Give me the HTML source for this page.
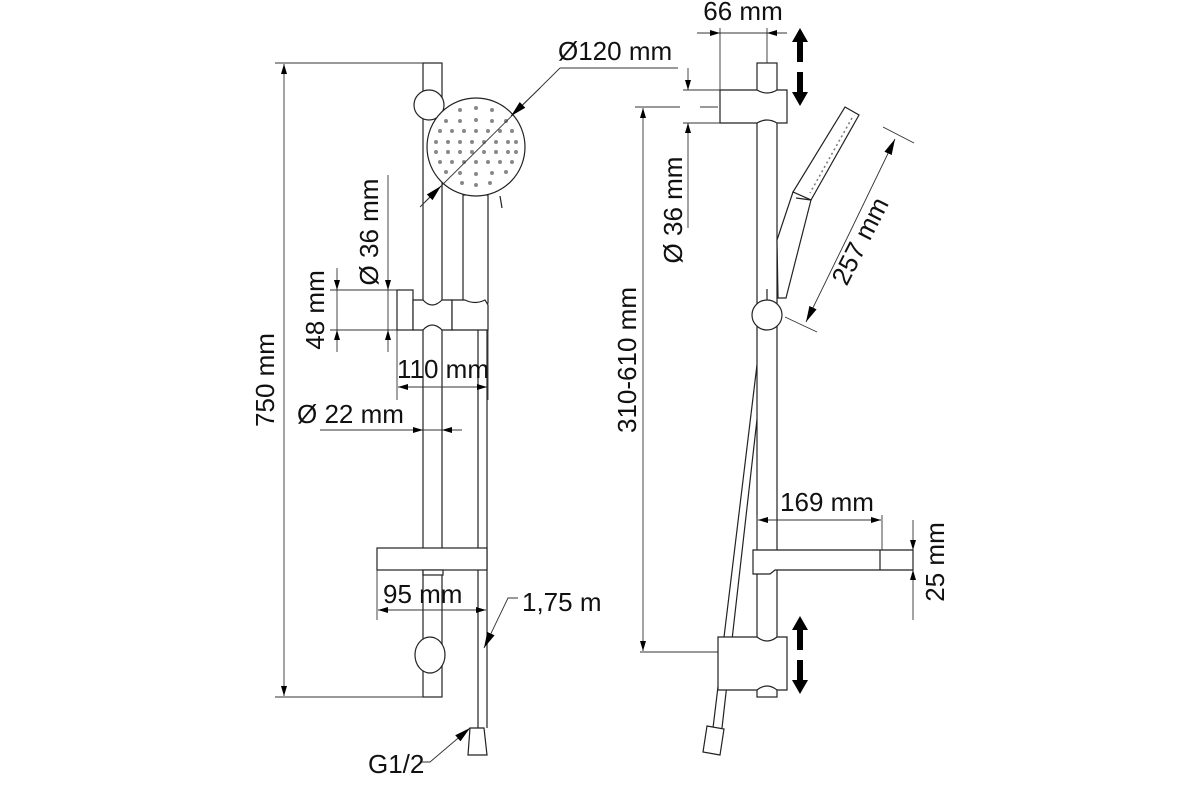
<!DOCTYPE html>
<html><head><meta charset="utf-8"><style>
html,body{margin:0;padding:0;background:#fff}
svg{display:block}
text{font-family:"Liberation Sans",sans-serif;font-size:26px;fill:#111}
</style></head><body>
<svg width="1200" height="800" viewBox="0 0 1200 800" xmlns="http://www.w3.org/2000/svg">
<defs>
<marker id="a" viewBox="0 0 10 6" refX="10" refY="3" markerWidth="10" markerHeight="6" orient="auto" markerUnits="userSpaceOnUse"><path d="M0,0L10,3L0,6z" fill="#000"/></marker>
<marker id="b" viewBox="0 0 16 8" refX="16" refY="4" markerWidth="16" markerHeight="8" orient="auto" markerUnits="userSpaceOnUse"><path d="M0,0L16,4L0,8z" fill="#000"/></marker>
</defs>
<g stroke="#222" stroke-width="1.2" fill="none">
<rect x="423" y="63" width="19" height="634" fill="#fff"/>
<circle cx="429" cy="105" r="15" fill="#fff"/>
<rect x="463" y="195" width="25" height="108" fill="#fff"/>
<line x1="500" y1="196" x2="502" y2="208"/>
<circle cx="476" cy="147" r="49" fill="#fff"/>
<rect x="397" y="290" width="16" height="40" fill="#fff"/>
<path d="M413,300 L423,300 Q432,310 442,300 L452,300 L452,330 L442,330 Q432,320 423,330 L413,330 Z" fill="#fff"/>
<path d="M452,300 L465,300 Q475,305 485,300 L488,305 L488,330 L452,330 Z" fill="#fff"/>
<line x1="478" y1="330" x2="478" y2="728"/>
<line x1="487" y1="330" x2="487" y2="728"/>
<path d="M470,728 L484,728 L487,755 L468,755 Z" fill="#fff"/>
<rect x="377" y="548" width="110" height="22" fill="#fff"/>
<rect x="423" y="570" width="20" height="5" fill="#fff"/>
<ellipse cx="430" cy="655" rx="15" ry="18" fill="#fff"/>
</g>
<g fill="#888">
<circle cx="460" cy="110" r="2"/><circle cx="476" cy="108" r="2"/><circle cx="492" cy="110" r="2"/>
<circle cx="446" cy="121" r="2"/><circle cx="460" cy="121" r="2"/><circle cx="476" cy="120" r="2"/><circle cx="492" cy="121" r="2"/><circle cx="506" cy="121" r="2"/>
<circle cx="440" cy="131" r="2"/><circle cx="452" cy="131" r="2"/><circle cx="464" cy="131" r="2"/><circle cx="476" cy="131" r="2"/><circle cx="488" cy="131" r="2"/><circle cx="500" cy="131" r="2"/><circle cx="512" cy="131" r="2"/>
<circle cx="436" cy="142" r="2"/><circle cx="448" cy="142" r="2"/><circle cx="460" cy="142" r="2"/><circle cx="472" cy="142" r="2"/><circle cx="484" cy="142" r="2"/><circle cx="496" cy="142" r="2"/><circle cx="508" cy="142" r="2"/><circle cx="516" cy="142" r="2"/>
<circle cx="436" cy="152" r="2"/><circle cx="448" cy="152" r="2"/><circle cx="460" cy="152" r="2"/><circle cx="472" cy="152" r="2"/><circle cx="484" cy="152" r="2"/><circle cx="496" cy="152" r="2"/><circle cx="508" cy="152" r="2"/><circle cx="516" cy="152" r="2"/>
<circle cx="440" cy="162" r="2"/><circle cx="452" cy="162" r="2"/><circle cx="464" cy="162" r="2"/><circle cx="476" cy="162" r="2"/><circle cx="488" cy="162" r="2"/><circle cx="500" cy="162" r="2"/><circle cx="512" cy="162" r="2"/>
<circle cx="446" cy="172" r="2"/><circle cx="460" cy="173" r="2"/><circle cx="476" cy="174" r="2"/><circle cx="492" cy="173" r="2"/><circle cx="506" cy="172" r="2"/>
<circle cx="462" cy="183" r="2"/><circle cx="476" cy="185" r="2"/><circle cx="490" cy="183" r="2"/>
</g>
<g stroke="#333" stroke-width="0.9" fill="none">
<line x1="275" y1="63" x2="423" y2="63"/><line x1="275" y1="697" x2="423" y2="697"/>
<line x1="284" y1="380" x2="284" y2="64" marker-end="url(#a)"/><line x1="284" y1="380" x2="284" y2="696" marker-end="url(#a)"/>
<line x1="330" y1="290" x2="397" y2="290"/><line x1="330" y1="330" x2="397" y2="330"/>
<line x1="337" y1="268" x2="337" y2="290" marker-end="url(#a)"/><line x1="337" y1="352" x2="337" y2="330" marker-end="url(#a)"/><line x1="337" y1="290" x2="337" y2="330"/>
<line x1="388" y1="175" x2="388" y2="290" marker-end="url(#a)"/><line x1="388" y1="352" x2="388" y2="330" marker-end="url(#a)"/><line x1="388" y1="290" x2="388" y2="330"/>
<line x1="397" y1="330" x2="397" y2="400"/><line x1="488" y1="330" x2="488" y2="400"/>
<line x1="443" y1="387" x2="398" y2="387" marker-end="url(#a)"/><line x1="443" y1="387" x2="487" y2="387" marker-end="url(#a)"/>
<line x1="320" y1="430" x2="423" y2="430" marker-end="url(#a)"/><line x1="462" y1="430" x2="442" y2="430" marker-end="url(#a)"/><line x1="423" y1="430" x2="442" y2="430"/>
<line x1="560" y1="68" x2="678" y2="68"/>
<line x1="560" y1="68" x2="420" y2="207"/>
<line x1="540" y1="88" x2="511" y2="116" marker-end="url(#b)"/>
<line x1="425" y1="202" x2="441" y2="186" marker-end="url(#b)"/>
<line x1="377" y1="570" x2="377" y2="620"/>
<line x1="430" y1="610" x2="378" y2="610" marker-end="url(#a)"/><line x1="430" y1="610" x2="486" y2="610" marker-end="url(#a)"/>
<polyline points="518,598 508,598 484,648" marker-end="url(#b)"/>
<polyline points="420,762 430,762 470,728" marker-end="url(#b)"/>
</g>
<g stroke="#222" stroke-width="1.2" fill="none">
<line x1="760" y1="340" x2="713" y2="728"/><line x1="766" y1="340" x2="722" y2="728"/>
<path d="M707,726 L724,729 L720,755 L703,752 Z" fill="#fff"/>
<rect x="757" y="63" width="20" height="634" fill="#fff"/>
<path d="M720,90 L757,90 Q767,96 777,90 L787,90 L787,123 L777,123 Q767,117 757,123 L720,123 Z" fill="#fff"/>
<path d="M845,107 L859,115 L811,200 L793,192 Z" fill="#fff"/>
<path d="M793,192 L811,200 L786,298 L778,298 L777,240 Z" fill="#fff"/>
<line x1="796" y1="198" x2="811" y2="200"/>
<line x1="767" y1="289" x2="767" y2="300"/>
<circle cx="767" cy="315" r="15" fill="#fff"/>
<path d="M753,550 L913,550 L913,570 L775,570 L770,574 L753,574 Z" fill="#fff"/>
<line x1="880" y1="550" x2="880" y2="570"/>
<path d="M718,637 L757,637 Q767,645 777,637 L787,637 L787,690 L777,690 Q767,682 757,690 L718,690 Z" fill="#fff"/>
</g>
<g stroke="#777" stroke-width="1.5" stroke-dasharray="2,3"><line x1="852" y1="118" x2="810" y2="193"/></g>
<g stroke="#333" stroke-width="0.9" fill="none">
<line x1="720" y1="90" x2="720" y2="28"/><line x1="767" y1="63" x2="767" y2="28"/>
<line x1="697" y1="33" x2="720" y2="33" marker-end="url(#a)"/><line x1="787" y1="33" x2="767" y2="33" marker-end="url(#a)"/><line x1="720" y1="33" x2="767" y2="33"/>
<line x1="683" y1="90" x2="720" y2="90"/><line x1="683" y1="123" x2="720" y2="123"/>
<line x1="688" y1="68" x2="688" y2="90" marker-end="url(#a)"/><line x1="688" y1="228" x2="688" y2="123" marker-end="url(#a)"/>
<line x1="635" y1="107" x2="680" y2="107"/><line x1="700" y1="107" x2="718" y2="107"/>
<line x1="643" y1="380" x2="643" y2="108" marker-end="url(#a)"/><line x1="643" y1="380" x2="643" y2="651" marker-end="url(#a)"/>
<line x1="640" y1="652" x2="718" y2="652"/>
<line x1="883" y1="127" x2="914" y2="143"/><line x1="785" y1="317" x2="817" y2="332"/>
<line x1="850" y1="232" x2="895" y2="139" marker-end="url(#b)"/><line x1="850" y1="232" x2="806" y2="322" marker-end="url(#b)"/>
<line x1="757" y1="515" x2="757" y2="550"/><line x1="882" y1="515" x2="882" y2="550"/>
<line x1="820" y1="520" x2="758" y2="520" marker-end="url(#a)"/><line x1="820" y1="520" x2="881" y2="520" marker-end="url(#a)"/>
<line x1="913" y1="520" x2="913" y2="550" marker-end="url(#a)"/><line x1="913" y1="620" x2="913" y2="570" marker-end="url(#a)"/>
</g>
<g fill="#000">
<path d="M797,62 L797,42 L792,42 L800,28 L808,42 L803,42 L803,62 Z"/>
<path d="M797,72 L797,92 L792,92 L800,106 L808,92 L803,92 L803,72 Z"/>
<path d="M797,650 L797,630 L792,630 L800,616 L808,630 L803,630 L803,650 Z"/>
<path d="M797,660 L797,680 L792,680 L800,694 L808,680 L803,680 L803,660 Z"/>
</g>
<text x="274" y="380" transform="rotate(-90 274 380)" text-anchor="middle">750 mm</text>
<text x="324" y="310" transform="rotate(-90 324 310)" text-anchor="middle">48 mm</text>
<text x="378" y="232" transform="rotate(-90 378 232)" text-anchor="middle">Ø 36 mm</text>
<text x="443" y="378" text-anchor="middle">110 mm</text>
<text x="297" y="423">Ø 22 mm</text>
<text x="558" y="60">Ø120 mm</text>
<text x="383" y="603">95 mm</text>
<text x="522" y="611">1,75 m</text>
<text x="368" y="773">G1/2</text>
<text x="743" y="20" text-anchor="middle">66 mm</text>
<text x="682" y="210" transform="rotate(-90 682 210)" text-anchor="middle">Ø 36 mm</text>
<text x="636" y="360" transform="rotate(-90 636 360)" text-anchor="middle">310-610 mm</text>
<text x="868" y="245" transform="rotate(-63 868 245)" text-anchor="middle">257 mm</text>
<text x="827" y="511" text-anchor="middle">169 mm</text>
<text x="944" y="562" transform="rotate(-90 944 562)" text-anchor="middle">25 mm</text>
</svg>
</body></html>
